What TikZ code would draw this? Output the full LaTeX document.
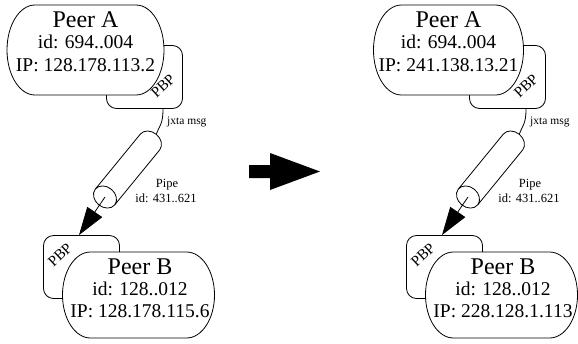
\documentclass[tikz,border=0pt]{standalone}
\usepackage{fontspec}
\usepackage{graphicx}
\setmainfont{Liberation Serif}
\usetikzlibrary{arrows.meta,calc}
\tikzset{
  outline/.style={line width=0.8pt},
  pbpbox/.style={draw, line width=0.8pt, fill=white, rounded corners=10pt,
    minimum width=76pt, minimum height=63pt, inner sep=0pt},
  pbptext/.style={font=\fontsize{15}{15}\selectfont, inner sep=0pt},
  peername/.style={font=\fontsize{24}{24}\selectfont, anchor=base, inner sep=0pt},
  peerinfo/.style={font=\fontsize{19.5}{19.5}\selectfont, anchor=base, inner sep=0pt},
  smalllabel/.style={font=\fontsize{12.5}{12.5}\selectfont, inner sep=0pt},
  tinylabel/.style={font=\fontsize{11.5}{11.5}\selectfont, inner sep=0pt},
}
% stadium with elliptical ends: cx, cy, half width, half height
\newcommand\peerblob[4]{%
  \filldraw[outline,fill=white] ({#1-#3+28},{#2-#4}) -- ({#1+#3-28},{#2-#4})
    arc[start angle=-90,end angle=90,x radius=28,y radius=#4]
    -- ({#1-#3+28},{#2+#4})
    arc[start angle=90,end angle=270,x radius=28,y radius=#4] -- cycle;}
% one side of the figure: shift, suffix, IP of A, IP of B, half width of A
\newcommand\sidefig[5]{%
\begin{scope}[xshift=#1]
  % Peer A
  \node[pbpbox] (pbpA#2) at (144.5,77) {};
  \peerblob{85.5}{50}{#5}{45}
  \node[pbptext] (pbpAt#2) at (163,86) {\rotatebox{43}{PBP}};
  \node[peername] (peerA#2) at (85.5,27) {Peer A};
  \node[peerinfo] (idA#2) at (85.5,48) {id: 694..004};
  \node[peerinfo] (ipA#2) at (85.5,71) {IP: #3};
  % Peer B
  \node[pbpbox] (pbpB#2) at (81.5,267) {};
  \peerblob{138.5}{295}{76}{43}
  \node[pbptext] (pbpBt#2) at (60,255) {\rotatebox{43}{PBP}};
  \node[peername] (peerB#2) at (140,274) {Peer B};
  \node[peerinfo] (idB#2) at (140,295) {id: 128..012};
  \node[peerinfo] (ipB#2) at (140,317) {IP: #4};
  % Pipe
  \begin{scope}[shift={(105,197)}, rotate=50.7]
    \draw[outline, fill=white] (0,-12.5) -- (71,-12.5)
      arc[start angle=-90,end angle=90,x radius=10,y radius=12.5] -- (0,12.5);
    \draw[outline, fill=white] (0,0) ellipse[x radius=10, y radius=12.5];
    \coordinate (pipebot#2) at (0,0);
    \coordinate (pipetop#2) at (81,0);
  \end{scope}
  \node[smalllabel, anchor=base] (pipename#2) at (167,187) {Pipe};
  \node[smalllabel, anchor=base] (pipeid#2) at (166,202) {id: 431..621};
  % connectors
  \draw[outline] ($(pbpA#2.south)+(18.5,0)$) .. controls +(0,16) and +(3,-9) .. (pipetop#2);
  \node[tinylabel, anchor=west] (jxta#2) at (167,122) {jxta msg};
  \draw[outline, -{Triangle[length=28pt,width=18pt]}] (pipebot#2) -- ($(pbpB#2.north)+(-2.5,0)$);
\end{scope}}
\begin{document}
\begin{tikzpicture}[x=1pt,y=-1pt]
  \useasboundingbox (0,0) rectangle (578,343);
  \sidefig{0}{L}{128.178.113.2}{128.178.115.6}{78.5}
  \sidefig{363}{R}{241.138.13.21}{228.128.1.113}{75}
  % big transition arrow
  \fill (249,165) -- (270,165) -- (270,153) -- (320,171.5) -- (270,190)
    -- (270,178) -- (249,178) -- cycle;
\end{tikzpicture}
\end{document}
